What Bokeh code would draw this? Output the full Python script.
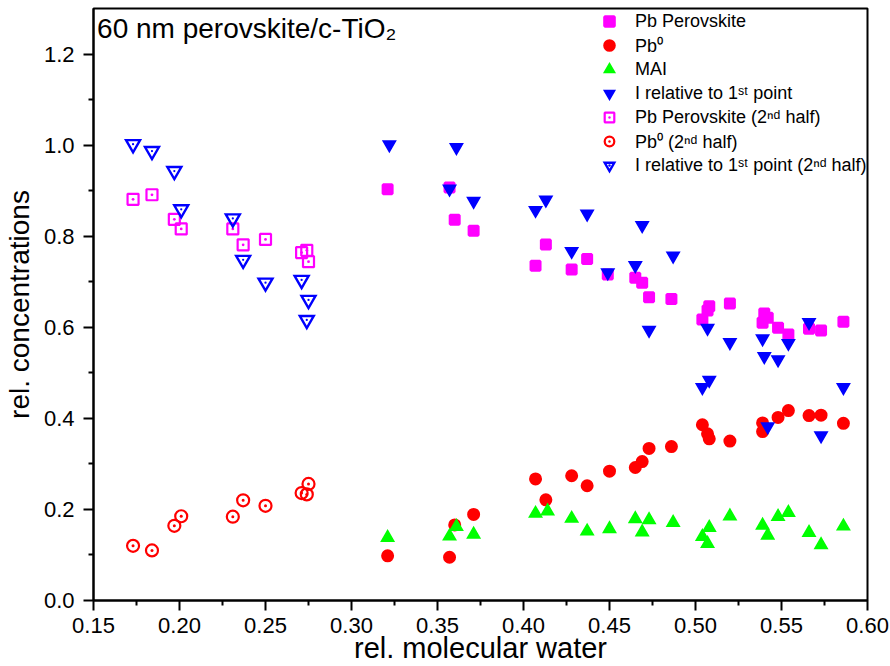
from bokeh.plotting import figure
from bokeh.models import (Range1d, FixedTicker, PrintfTickFormatter, Legend,
                          LegendItem, Label)
from bokeh.embed import file_html
from bokeh.resources import INLINE

FONT = "Liberation Sans"

# ---------------- data ----------------
pb_perov_x = [0.321, 0.357, 0.360, 0.371, 0.407, 0.413, 0.428, 0.437, 0.449, 0.465,
              0.469, 0.473, 0.486, 0.504, 0.507, 0.508, 0.520, 0.539, 0.540, 0.542,
              0.548, 0.554, 0.566, 0.573, 0.586]
pb_perov_y = [0.903, 0.907, 0.836, 0.812, 0.735, 0.782, 0.727, 0.750, 0.716, 0.709,
              0.698, 0.666, 0.662, 0.617, 0.637, 0.646, 0.652, 0.610, 0.630, 0.621,
              0.599, 0.584, 0.597, 0.593, 0.612]

pb0_x = [0.321, 0.357, 0.360, 0.371, 0.407, 0.413, 0.428, 0.437, 0.450, 0.465,
         0.469, 0.473, 0.486, 0.504, 0.507, 0.508, 0.520, 0.539, 0.539, 0.548,
         0.554, 0.566, 0.573, 0.586]
pb0_y = [0.098, 0.095, 0.166, 0.189, 0.267, 0.221, 0.274, 0.252, 0.284, 0.292,
         0.305, 0.334, 0.338, 0.386, 0.366, 0.355, 0.350, 0.390, 0.371, 0.402,
         0.417, 0.406, 0.407, 0.389]

mai_x = [0.321, 0.357, 0.361, 0.371, 0.407, 0.414, 0.428, 0.437, 0.450, 0.465,
         0.469, 0.473, 0.487, 0.504, 0.507, 0.508, 0.520, 0.539, 0.542, 0.548,
         0.554, 0.566, 0.573, 0.586]
mai_y = [0.138, 0.141, 0.162, 0.145, 0.191, 0.196, 0.180, 0.152, 0.157, 0.179,
         0.150, 0.177, 0.171, 0.140, 0.125, 0.160, 0.185, 0.165, 0.143, 0.184,
         0.193, 0.149, 0.122, 0.163]

iod_x = [0.322, 0.361, 0.357, 0.371, 0.407, 0.413, 0.437, 0.428, 0.449, 0.469,
         0.487, 0.465, 0.473, 0.507, 0.520, 0.539, 0.554, 0.540, 0.548, 0.566,
         0.508, 0.504, 0.586, 0.542, 0.573]
iod_y = [1.001, 0.995, 0.904, 0.877, 0.857, 0.880, 0.849, 0.767, 0.720, 0.824,
         0.757, 0.736, 0.594, 0.598, 0.567, 0.575, 0.565, 0.536, 0.529, 0.611,
         0.484, 0.468, 0.468, 0.382, 0.362]

half2_x = [0.173, 0.184, 0.197, 0.201, 0.231, 0.237, 0.250, 0.271, 0.274, 0.275]
pb_perov2_y = [0.881, 0.891, 0.837, 0.816, 0.816, 0.781, 0.793, 0.764, 0.769, 0.744]
pb0_2_y = [0.120, 0.110, 0.164, 0.185, 0.184, 0.220, 0.208, 0.236, 0.233, 0.256]
iod2_y = [1.002, 0.987, 0.943, 0.859, 0.839, 0.748, 0.698, 0.704, 0.616, 0.660]

x_ticks = [0.15, 0.20, 0.25, 0.30, 0.35, 0.40, 0.45, 0.50, 0.55, 0.60]
x_minor = [0.175, 0.225, 0.275, 0.325, 0.375, 0.425, 0.475, 0.525, 0.575]
y_ticks = [0.0, 0.2, 0.4, 0.6, 0.8, 1.0, 1.2]
y_minor = [0.1, 0.3, 0.5, 0.7, 0.9, 1.1]

labels = ["Pb Perovskite", "Pb\u2070", "MAI", "I relative to 1\u02e2\u1d57 point",
          "Pb Perovskite (2\u207f\u1d48 half)", "Pb\u2070 (2\u207f\u1d48 half)",
          "I relative to 1\u02e2\u1d57 point (2\u207f\u1d48 half)"]
title_text = "60 nm perovskite/c-TiO\u2082"
x_label = "rel. molecular water"
y_label = "rel. concentrations"

MAGENTA = "#FF00FF"
RED = "#FF0000"
GREEN = "#00FF00"
BLUE = "#0000FF"

# ---------------- figure ----------------
p = figure(width=890, height=666, output_backend="svg", toolbar_location=None,
           title=None, x_range=Range1d(0.15, 0.60), y_range=Range1d(0.0, 1.3),
           min_border_left=93, min_border_right=23, min_border_top=8,
           min_border_bottom=66)
p.xgrid.visible = False
p.ygrid.visible = False
p.outline_line_color = "black"
p.outline_line_width = 2
p.outline_line_alpha = 1.0
p.background_fill_color = "white"
p.border_fill_color = "white"

for ax in (p.xaxis[0], p.yaxis[0]):
    ax.axis_line_width = 2
    ax.axis_line_color = "black"
    ax.major_tick_line_width = 2
    ax.minor_tick_line_width = 2
    ax.major_tick_out = 10
    ax.major_tick_in = 0
    ax.minor_tick_out = 5
    ax.minor_tick_in = 0
    ax.major_label_text_font = FONT
    ax.major_label_text_font_size = "22px"
    ax.major_label_text_color = "black"
    ax.axis_label_text_font = FONT
    ax.axis_label_text_font_style = "normal"
    ax.axis_label_text_color = "black"

xa = p.xaxis[0]
xa.ticker = FixedTicker(ticks=x_ticks, minor_ticks=x_minor)
xa.formatter = PrintfTickFormatter(format="%.2f")
xa.axis_label = x_label
xa.axis_label_text_font_size = "29px"
xa.major_label_standoff = 7
xa.axis_label_standoff = -4

ya = p.yaxis[0]
ya.ticker = FixedTicker(ticks=y_ticks, minor_ticks=y_minor)
ya.formatter = PrintfTickFormatter(format="%.1f")
ya.axis_label = y_label
ya.axis_label_text_font_size = "28px"
ya.major_label_standoff = 9
ya.axis_label_standoff = 6

# ---------------- marks ----------------
r_pb = p.scatter(pb_perov_x, pb_perov_y, marker="square", size=9,
                 fill_color=MAGENTA, line_color=MAGENTA, line_width=3)
r_pb0 = p.scatter(pb0_x, pb0_y, marker="circle", size=10,
                  fill_color=RED, line_color=RED, line_width=3)
r_mai = p.scatter(mai_x, mai_y, marker="triangle", size=11.5,
                  fill_color=GREEN, line_color=GREEN, line_width=2,
                  line_join="miter")
r_iod = p.scatter(iod_x, iod_y, marker="inverted_triangle", size=11.5,
                  fill_color=BLUE, line_color=BLUE, line_width=2,
                  line_join="miter")

r_pb2 = p.scatter(half2_x, pb_perov2_y, marker="square_dot", size=11,
                  fill_color=None, line_color=MAGENTA, line_width=2.2)
r_pb02 = p.scatter(half2_x, pb0_2_y, marker="circle_dot", size=12,
                   fill_color=None, line_color=RED, line_width=2.2)
r_iod2 = p.scatter(half2_x, iod2_y, marker="inverted_triangle", size=14,
                   fill_color=None, line_color=BLUE, line_width=2.4,
                   line_join="miter")
r_iod2d = p.scatter(half2_x, iod2_y, marker="dot", size=9,
                    fill_color=None, line_color=BLUE, line_width=1)

# ---------------- title ----------------
p.add_layout(Label(x=0.1521, y=1.257, text=title_text, text_font=FONT,
                   text_font_size="28px", text_color="black",
                   text_baseline="alphabetic", text_align="left"))

# ---------------- legend ----------------
renderer_sets = [[r_pb], [r_pb0], [r_mai], [r_iod], [r_pb2], [r_pb02],
                 [r_iod2, r_iod2d]]
items = [LegendItem(label=lab, renderers=rs) for lab, rs in zip(labels, renderer_sets)]
legend = Legend(items=items, location=(500, 423), orientation="vertical",
                glyph_width=32, glyph_height=24, label_height=24,
                label_standoff=10, spacing=0, padding=0, margin=0,
                background_fill_alpha=0.0, border_line_alpha=0.0,
                label_text_font=FONT, label_text_font_size="18px",
                label_text_color="black")
p.add_layout(legend)

open("out.html", "w").write(file_html(p, INLINE))
